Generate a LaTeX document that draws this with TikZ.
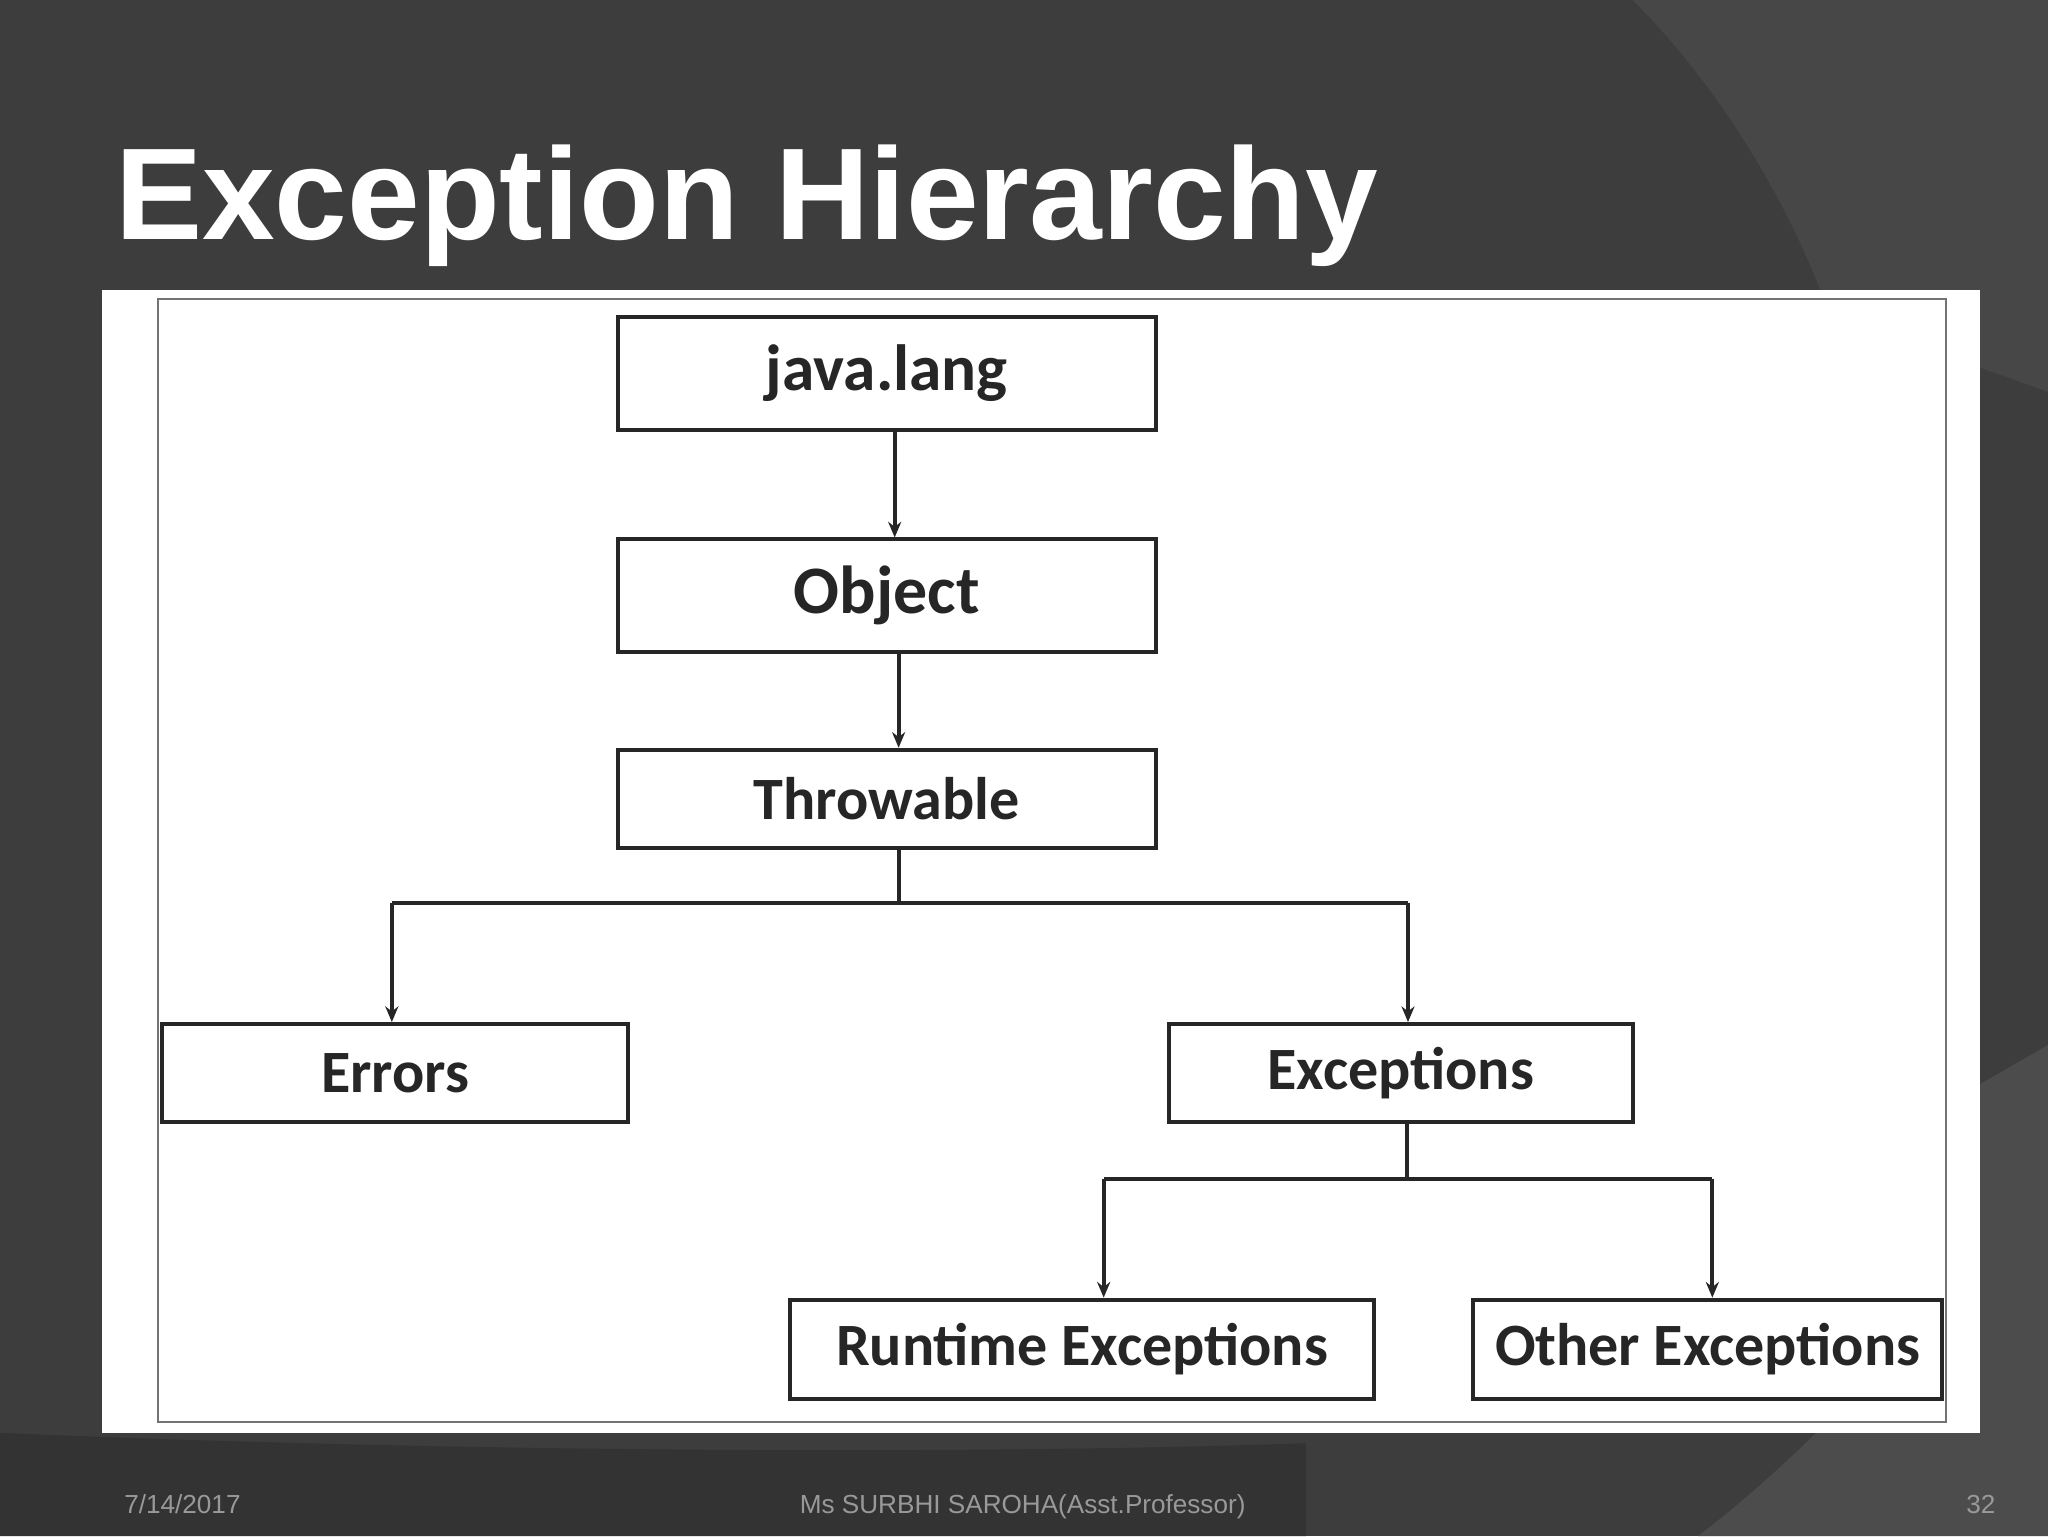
\documentclass[tikz,border=0pt]{standalone}
\usepackage{fontspec}
\setmainfont{Liberation Sans}
\newfontfamily\carl{Carlito}
\usetikzlibrary{arrows.meta}
\begin{document}
\begin{tikzpicture}[x=1pt,y=-1pt,
  box/.style={draw=black!85,line width=3pt,fill=white,minimum height=#1,inner sep=0pt,font=\carl\bfseries\fontsize{46}{50}\selectfont,text=black!85},
  conn/.style={line width=3pt,draw=black!85},
  arr/.style={conn,-{Stealth[length=12pt,width=10pt]}}]
\useasboundingbox (0,0) rectangle (1568,1176);
\fill[black!76] (0,0) rectangle (1568,1176);
\fill[black!72] (1250,0) .. controls (1330,80) and (1380,180) .. (1400,240) -- (1568,300) -- (1568,0) -- cycle;
\fill[black!70] (1516,830) -- (1568,800) -- (1568,1176) -- (1300,1176) .. controls (1400,1100) and (1480,1000) .. (1516,960) -- cycle;
\fill[black!80] (0,1097) .. controls (300,1110) and (700,1115) .. (1000,1105) -- (1000,1176) -- (0,1176) -- cycle;
\node[anchor=base west,text=white,font=\bfseries\fontsize{100}{100}\selectfont,inner sep=0pt] (title) at (88,183) {Exception Hierarchy};
\fill[white] (78,222) rectangle (1516,1097);
\draw[black!55,line width=1.5pt] (121,229) rectangle (1490,1089);
\node[box=86pt,minimum width=412pt,font=\carl\bfseries\fontsize{50}{54}\selectfont] (jl) at (679,286) {java.lang};
\node[box=86pt,minimum width=412pt,font=\carl\bfseries\fontsize{52}{56}\selectfont] (obj) at (679,456) {Object};
\node[box=75pt,minimum width=412pt] (thr) at (679,611.5) {Throwable};
\node[box=75pt,minimum width=357pt] (err) at (302.5,821.5) {Errors};
\node[box=75pt,minimum width=355pt] (exc) at (1072.5,821.5) {Exceptions};
\node[box=76pt,minimum width=447pt] (rt) at (828.5,1033) {Runtime Exceptions};
\node[box=76pt,minimum width=359pt] (oth) at (1307.5,1033) {Other Exceptions};
\draw[arr] (jl.south -| 685,0) -- (obj.north -| 685,0);
\draw[arr] (obj.south -| 688,0) -- (thr.north -| 688,0);
\coordinate (b1) at (688,691);
\coordinate (bl) at (300,691);
\coordinate (br) at (1078,691);
\draw[conn] (thr.south -| b1) -- (b1);
\draw[conn] (bl) -- (br);
\draw[arr] (bl) -- (err.north -| bl);
\draw[arr] (br) -- (exc.north -| br);
\coordinate (b2) at (1077,903);
\coordinate (cl) at (845,903);
\coordinate (cr) at (1311,903);
\draw[conn] (exc.south -| b2) -- (b2);
\draw[conn] (cl) -- (cr);
\draw[arr] (cl) -- (rt.north -| cl);
\draw[arr] (cr) -- (oth.north -| cr);
\node[anchor=base west,text=black!40,font=\fontsize{20}{22}\selectfont,inner sep=0pt] (d) at (95,1159) {7/14/2017};
\node[anchor=base,text=black!40,font=\fontsize{20}{22}\selectfont,inner sep=0pt] (a) at (783,1159) {Ms SURBHI SAROHA(Asst.Professor)};
\node[anchor=base east,text=black!40,font=\fontsize{20}{22}\selectfont,inner sep=0pt] (p) at (1528,1159) {32};
\end{tikzpicture}
\end{document}
